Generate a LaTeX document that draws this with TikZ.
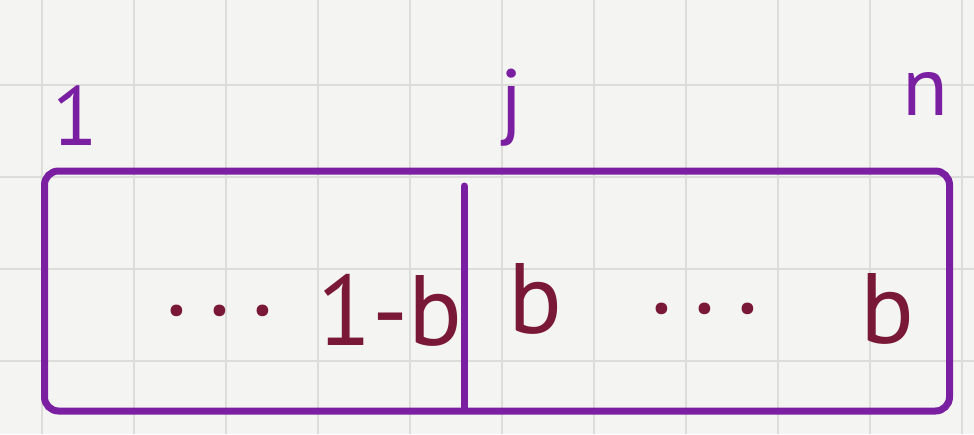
\documentclass[tikz,border=0pt]{standalone}
\usepackage{fontspec}
\setmainfont{PT Sans}
\definecolor{penpurple}{HTML}{7B1FA2}
\definecolor{penred}{HTML}{7A1838}
\definecolor{paper}{HTML}{F4F4F2}
\definecolor{gridgray}{HTML}{DCDCD9}
\begin{document}
\begin{tikzpicture}[x=1pt, y=-1pt]
        \tikzstyle{index}=[text=penpurple, font=\fontsize{84}{90}\selectfont, anchor=base, inner sep=0pt];
        \tikzstyle{entry}=[text=penred, font=\fontsize{100}{110}\selectfont, anchor=base, inner sep=0pt];
        \tikzstyle{pen}=[draw=penpurple, line width=7pt, line cap=round];

        \fill[paper] (0,0) rectangle (974,434);
        \useasboundingbox (0,0) rectangle (974,434);
        \foreach \gx in {42,134,...,962} \draw[gridgray, line width=2pt] (\gx,0) -- (\gx,434);
        \foreach \gy in {85,177,...,450} \draw[gridgray, line width=2pt] (0,\gy) -- (974,\gy);

        \node[pen, rectangle, rounded corners=14pt, minimum width=905pt, minimum height=240pt] (cells) at (497,291) {};

        \node[index] (first) at (75,145) {1};
        \node[index] (mid) at (512,128) {j};
        \node[index] (last) at (925,115) {n};

        \node[entry] (dotsleft) at (220,340) {·\,·\,·};
        \node[entry] (oneminus) at (390,345) {1-b};
        \node[entry] (bmid) at (535,333) {b};
        \node[entry] (dotsright) at (705,338) {·\,·\,·};
        \node[entry] (blast) at (887,343) {b};

        \coordinate (divtop) at (464,186);
        \coordinate (divbot) at (464,410);
        \draw[pen] (divtop) -- (divbot);
    \end{tikzpicture}
\end{document}
